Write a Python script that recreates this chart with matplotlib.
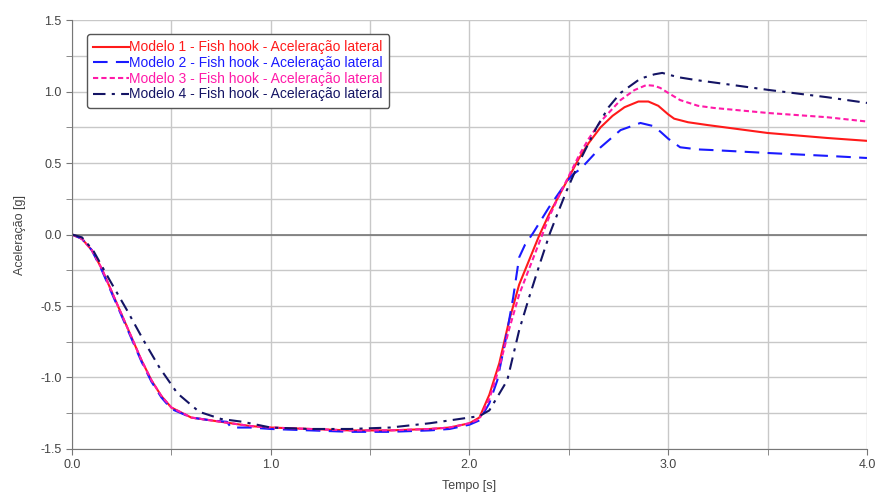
import matplotlib.pyplot as plt
from matplotlib.ticker import MultipleLocator, NullFormatter

plt.rcParams['font.family'] = ['Liberation Sans', 'DejaVu Sans']

# Modelo 1
t1 = [0, 0.05, 0.1, 0.15, 0.2, 0.25, 0.3, 0.35, 0.4, 0.45, 0.5, 0.6, 0.7, 0.8,
      0.9, 1.0, 1.2, 1.4, 1.6, 1.8, 1.9, 2.0, 2.05, 2.1, 2.15, 2.2, 2.25, 2.3,
      2.35, 2.4, 2.45, 2.5, 2.55, 2.6, 2.66, 2.72, 2.78, 2.85, 2.9, 2.95, 3.0,
      3.03, 3.1, 3.2, 3.5, 3.8, 4.0]
a1 = [0, -0.03, -0.11, -0.24, -0.40, -0.56, -0.72, -0.88, -1.02, -1.13, -1.21,
      -1.28, -1.30, -1.32, -1.34, -1.35, -1.36, -1.37, -1.37, -1.36, -1.35,
      -1.32, -1.28, -1.12, -0.90, -0.60, -0.35, -0.18, -0.01, 0.14, 0.27, 0.40,
      0.53, 0.64, 0.75, 0.83, 0.89, 0.93, 0.93, 0.90, 0.84, 0.81, 0.785, 0.765,
      0.71, 0.675, 0.655]

# Modelo 2
t2 = [0, 0.05, 0.1, 0.15, 0.2, 0.25, 0.3, 0.35, 0.4, 0.45, 0.5, 0.6, 0.7, 0.78,
      0.8, 0.9, 1.0, 1.2, 1.4, 1.6, 1.8, 1.9, 2.0, 2.05, 2.1, 2.14, 2.18, 2.22,
      2.25, 2.28, 2.32, 2.36, 2.4, 2.45, 2.49, 2.52, 2.56, 2.6, 2.66, 2.76,
      2.86, 2.92, 2.96, 3.0, 3.06, 3.15, 3.23, 3.5, 3.8, 4.0]
a2 = [0, -0.03, -0.11, -0.25, -0.41, -0.57, -0.73, -0.89, -1.03, -1.14, -1.22,
      -1.28, -1.30, -1.31, -1.35, -1.35, -1.36, -1.37, -1.38, -1.38, -1.37,
      -1.36, -1.33, -1.30, -1.18, -1.02, -0.75, -0.44, -0.16, -0.07, 0.01,
      0.10, 0.19, 0.29, 0.37, 0.42, 0.46, 0.52, 0.61, 0.73, 0.78, 0.76, 0.72,
      0.67, 0.61, 0.595, 0.59, 0.57, 0.55, 0.535]

# Modelo 3
t3 = [0, 0.05, 0.1, 0.15, 0.2, 0.25, 0.3, 0.35, 0.4, 0.45, 0.5, 0.6, 0.7, 0.8,
      0.9, 1.0, 1.2, 1.4, 1.6, 1.8, 1.9, 2.0, 2.05, 2.1, 2.15, 2.2, 2.25, 2.3,
      2.35, 2.4, 2.45, 2.5, 2.55, 2.6, 2.66, 2.76, 2.83, 2.89, 2.93, 2.96, 3.0,
      3.06, 3.15, 3.23, 3.5, 3.8, 4.0]
a3 = [0, -0.03, -0.11, -0.24, -0.40, -0.56, -0.72, -0.88, -1.02, -1.13, -1.21,
      -1.28, -1.30, -1.32, -1.34, -1.35, -1.36, -1.37, -1.37, -1.36, -1.35,
      -1.32, -1.29, -1.15, -0.93, -0.66, -0.42, -0.24, -0.06, 0.12, 0.27, 0.41,
      0.55, 0.67, 0.79, 0.94, 1.01, 1.045, 1.04, 1.025, 0.99, 0.94, 0.90,
      0.885, 0.85, 0.82, 0.79]

# Modelo 4
t4 = [0, 0.05, 0.106, 0.19, 0.277, 0.36, 0.44, 0.53, 0.64, 0.75, 0.86, 1.0,
      1.2, 1.4, 1.6, 1.8, 2.0, 2.05, 2.1, 2.19, 2.25, 2.3, 2.355, 2.405, 2.45,
      2.49, 2.55, 2.6, 2.64, 2.7, 2.76, 2.86, 2.93, 2.97, 3.05, 3.14, 3.3,
      3.51, 3.8, 4.0]
a4 = [0, -0.02, -0.11, -0.32, -0.53, -0.74, -0.93, -1.11, -1.24, -1.29, -1.31,
      -1.35, -1.36, -1.36, -1.35, -1.32, -1.28, -1.27, -1.23, -1.02, -0.67,
      -0.44, -0.20, 0.01, 0.17, 0.31, 0.50, 0.64, 0.75, 0.89, 0.99, 1.09, 1.12,
      1.13, 1.10, 1.08, 1.05, 1.01, 0.96, 0.92]

labels = ['Modelo 1 - Fish hook - Aceleração lateral',
          'Modelo 2 - Fish hook - Aceleração lateral',
          'Modelo 3 - Fish hook - Aceleração lateral',
          'Modelo 4 - Fish hook - Aceleração lateral']
colors = ['#ff1a1a', '#1a1aff', '#ff1aa8', '#141464']

fig = plt.figure(figsize=(8.79, 4.94), dpi=100)
ax = fig.add_axes([0.0819, 0.0911, 0.9044, 0.8684])

ax.plot(t1, a1, color=colors[0], lw=1.5, label=labels[0])
ax.plot(t2, a2, color=colors[1], lw=1.5, dashes=(7, 4), label=labels[1])
ax.plot(t3, a3, color=colors[2], lw=1.5, dashes=(2.5, 1.5), label=labels[2])
ax.plot(t4, a4, color=colors[3], lw=1.5, dashes=(6, 3, 1.5, 3), label=labels[3])

ax.axhline(0, color='#777777', lw=1.2, zorder=1)

ax.set_xlim(0, 4)
ax.set_ylim(-1.5, 1.5)
ax.xaxis.set_major_locator(MultipleLocator(1.0))
ax.xaxis.set_minor_locator(MultipleLocator(0.5))
ax.yaxis.set_major_locator(MultipleLocator(0.5))
ax.yaxis.set_minor_locator(MultipleLocator(0.25))
ax.xaxis.set_major_formatter(lambda v, p: f'{v:.1f}')
ax.yaxis.set_major_formatter(lambda v, p: f'{v:.1f}')
ax.xaxis.set_minor_formatter(NullFormatter())
ax.grid(True, which='both', color='#c8c8c8', lw=1)
ax.set_axisbelow(True)
ax.tick_params(which='both', length=4, color='#777777', labelsize=9,
               labelcolor='#444444')

for side in ['top', 'right']:
    ax.spines[side].set_visible(False)
for side in ['left', 'bottom']:
    ax.spines[side].set_color('#777777')

ax.set_xlabel('Tempo [s]', fontsize=9, color='#444444', labelpad=6)
ax.set_ylabel('Aceleração [g]', fontsize=9, color='#444444', labelpad=10)

leg = ax.legend(loc='upper left', bbox_to_anchor=(0.019, 0.967), fontsize=10,
                handlelength=2.6, handletextpad=0.0, labelspacing=0.12,
                borderpad=0.45, borderaxespad=0, fancybox=True, framealpha=1,
                edgecolor='#555555', labelcolor='linecolor')
leg.get_frame().set_linewidth(1.0)

fig.savefig('out.png', dpi=100)
